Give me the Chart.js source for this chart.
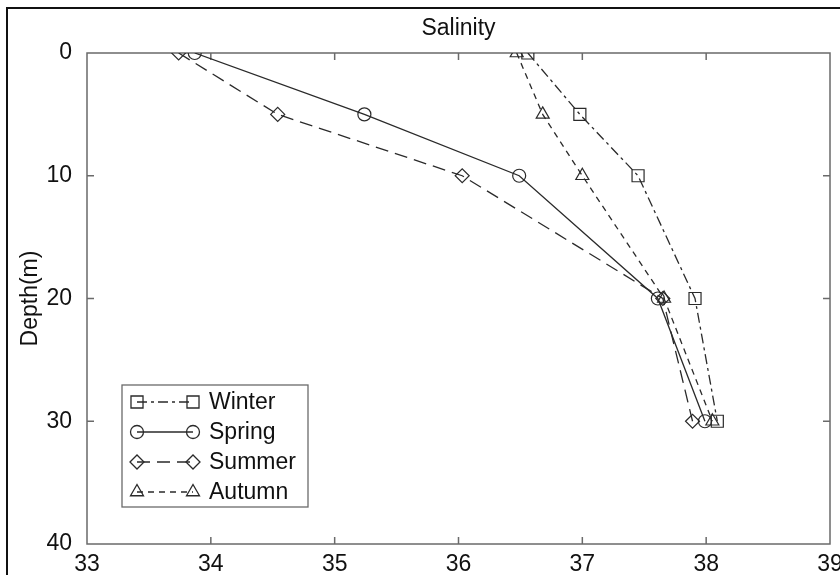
<!DOCTYPE html>
<html>
<head>
<meta charset="utf-8">
<script src="https://cdn.jsdelivr.net/npm/chart.js@4.4.0/dist/chart.umd.min.js"></script>
<style>
  html, body { margin: 0; padding: 0; background: #fff; }
  #wrap { width: 840px; height: 575px; }
</style>
</head>
<body>
<div id="wrap"><canvas id="salinityChart" width="840" height="575"></canvas></div>
<script>
// depth of each sample (m) and salinity per season
const depths = [0, 5, 10, 20, 30];
const winter = [36.56, 36.98, 37.45, 37.91, 38.09];
const spring = [33.87, 35.24, 36.49, 37.61, 37.99];
const summer = [33.74, 34.54, 36.03, 37.65, 37.89];
const autumn = [36.47, 36.68, 37.00, 37.66, 38.05];

const seasonNames = ['Winter', 'Spring', 'Summer', 'Autumn'];
const salinityTicks = [33, 34, 35, 36, 37, 38, 39];
const depthTicks = [0, 10, 20, 30, 40];

const FONT = "'Liberation Sans', Arial, sans-serif";
const INK = '#2a2a2a';
const AXIS = '#6a6a6a';

function toPoints(values) {
    return values.map((v, i) => ({ x: v, y: depths[i] }));
}

function season(label, values, pointStyle, radius, dash) {
    return {
        label: label,
        data: toPoints(values),
        showLine: true,
        borderColor: INK,
        borderWidth: 1.3,
        borderDash: dash,
        pointStyle: pointStyle,
        pointRadius: radius,
        pointBorderColor: INK,
        pointBorderWidth: 1.2,
        pointBackgroundColor: 'rgba(0,0,0,0)',
        pointHoverRadius: radius
    };
}

// outer frame, plot box and inward tick marks
const framePlugin = {
    id: 'frame',
    beforeDraw(chart) {
        const ctx = chart.ctx;
        ctx.save();
        ctx.fillStyle = '#fff';
        ctx.fillRect(0, 0, chart.width, chart.height);
        ctx.strokeStyle = '#111';
        ctx.lineWidth = 2;
        ctx.strokeRect(7, 8, chart.width + 20, chart.height + 20);
        ctx.restore();
    },
    beforeDatasetsDraw(chart) {
        const ctx = chart.ctx;
        const a = chart.chartArea;
        const xs = chart.scales.x;
        const ys = chart.scales.y;
        const len = 7;
        ctx.save();
        ctx.strokeStyle = AXIS;
        ctx.lineWidth = 1.5;
        ctx.strokeRect(a.left, a.top, a.right - a.left, a.bottom - a.top);
        ctx.beginPath();
        salinityTicks.slice(1, -1).forEach(v => {
            const px = xs.getPixelForValue(v);
            ctx.moveTo(px, a.top);
            ctx.lineTo(px, a.top + len);
            ctx.moveTo(px, a.bottom);
            ctx.lineTo(px, a.bottom - len);
        });
        depthTicks.slice(1, -1).forEach(v => {
            const py = ys.getPixelForValue(v);
            ctx.moveTo(a.left, py);
            ctx.lineTo(a.left + len, py);
            ctx.moveTo(a.right, py);
            ctx.lineTo(a.right - len, py);
        });
        ctx.stroke();
        ctx.restore();
    }
};

// boxed legend in the lower left of the plot
const legendBoxPlugin = {
    id: 'legendBox',
    afterDraw(chart) {
        const ctx = chart.ctx;
        const box = { x: 122, y: 385, w: 186, h: 122 };
        const rowY = [402, 432, 462, 492];
        ctx.save();
        ctx.fillStyle = '#fff';
        ctx.fillRect(box.x, box.y, box.w, box.h);
        ctx.strokeStyle = AXIS;
        ctx.lineWidth = 1.3;
        ctx.strokeRect(box.x, box.y, box.w, box.h);

        chart.data.datasets.forEach((ds, i) => {
            const y = rowY[i];
            const x0 = 137, x1 = 193;
            ctx.strokeStyle = ds.borderColor;
            ctx.lineWidth = ds.borderWidth;
            ctx.setLineDash(ds.borderDash || []);
            ctx.beginPath();
            ctx.moveTo(x0, y);
            ctx.lineTo(x1, y);
            ctx.stroke();
            ctx.setLineDash([]);
            const opts = {
                pointStyle: ds.pointStyle,
                radius: ds.pointRadius,
                rotation: 0,
                borderWidth: ds.pointBorderWidth
            };
            ctx.strokeStyle = ds.pointBorderColor;
            ctx.fillStyle = 'rgba(0,0,0,0)';
            Chart.helpers.drawPoint(ctx, opts, x0, y);
            Chart.helpers.drawPoint(ctx, opts, x1, y);

            ctx.fillStyle = '#111';
            ctx.font = '23px ' + FONT;
            ctx.textBaseline = 'middle';
            ctx.textAlign = 'left';
            ctx.fillText(ds.label, 209, y + 1);
        });
        ctx.restore();
    }
};

new Chart(document.getElementById('salinityChart'), {
    type: 'scatter',
    data: {
        datasets: [
            season(seasonNames[0], winter, 'rect', 8.5, [10, 4, 3, 4]),
            season(seasonNames[1], spring, 'circle', 6.5, []),
            season(seasonNames[2], summer, 'rectRot', 7, [13, 7]),
            season(seasonNames[3], autumn, 'triangle', 7.5, [6, 5])
        ]
    },
    options: {
        responsive: false,
        animation: false,
        layout: {
            autoPadding: false,
            padding: { left: 0, right: 10, top: 2, bottom: 0 }
        },
        plugins: {
            legend: { display: false },
            tooltip: { enabled: false },
            title: {
                display: true,
                text: 'Salinity',
                fullSize: false,
                color: '#111',
                font: { family: FONT, size: 23, weight: 'normal' },
                padding: { top: 13, bottom: 10.4 }
            }
        },
        scales: {
            x: {
                type: 'linear',
                position: 'bottom',
                min: 33,
                max: 39,
                grid: { display: false, drawTicks: false },
                border: { display: false },
                ticks: {
                    stepSize: 1,
                    padding: 7,
                    color: '#111',
                    font: { family: FONT, size: 23 }
                },
                // let the end labels run past the plot edges
                afterFit(scale) {
                    scale.height = 31;
                    scale.paddingLeft = 0;
                    scale.paddingRight = 0;
                }
            },
            y: {
                type: 'linear',
                reverse: true,
                min: 0,
                max: 40,
                grid: { display: false, drawTicks: false },
                border: { display: false },
                title: {
                    display: true,
                    text: 'Depth(m)',
                    color: '#111',
                    font: { family: FONT, size: 23 },
                    padding: { top: 17, bottom: 0 }
                },
                ticks: {
                    stepSize: 10,
                    padding: 15,
                    color: '#111',
                    font: { family: FONT, size: 23 }
                },
                afterFit(scale) {
                    scale.width = 87;
                    scale.paddingTop = 0;
                    scale.paddingBottom = 0;
                }
            }
        }
    },
    plugins: [framePlugin, legendBoxPlugin]
});
</script>
</body>
</html>
